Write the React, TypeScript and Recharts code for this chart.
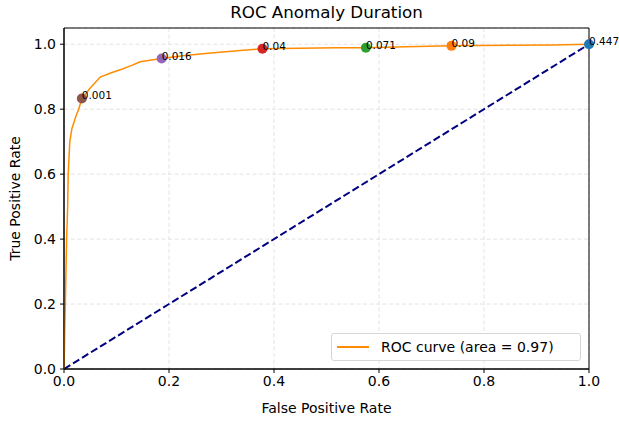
import { ComposedChart, Line, Scatter, XAxis, YAxis, CartesianGrid, ReferenceArea } from "recharts"

const FONT = "DejaVu Sans"

// ROC curve
const fprValues = [0, 0.001, 0.002, 0.003, 0.004, 0.005, 0.007, 0.008, 0.011, 0.015, 0.019, 0.023, 0.028, 0.034, 0.04, 0.05, 0.069, 0.09, 0.11, 0.129, 0.145, 0.186, 0.23, 0.28, 0.33, 0.378, 0.45, 0.52, 0.575, 0.65, 0.738, 0.85, 0.93, 1.0]
const tprValues = [0, 0.08, 0.16, 0.24, 0.32, 0.4, 0.5, 0.6, 0.7, 0.74, 0.76, 0.78, 0.8, 0.833, 0.845, 0.865, 0.899, 0.912, 0.923, 0.935, 0.946, 0.956, 0.965, 0.973, 0.98, 0.986, 0.988, 0.989, 0.989, 0.992, 0.995, 0.997, 0.998, 1.0]

// threshold markers
const thresholdLabels = ["0.001", "0.016", "0.04", "0.071", "0.09", "0.447"]
const thresholdFpr = [0.034, 0.186, 0.378, 0.575, 0.738, 1.0]
const thresholdTpr = [0.833, 0.956, 0.986, 0.989, 0.995, 1.0]
const thresholdColors = ["#8c564b", "#9467bd", "#d62728", "#2ca02c", "#ff7f0e", "#1f77b4"]

const ticks = [0, 0.2, 0.4, 0.6, 0.8, 1.0]

const rocData = fprValues.map((fpr, i) => ({ fpr, tpr: tprValues[i] }))
const diagData = [{ fpr: 0, tpr: 0 }, { fpr: 1, tpr: 1 }]
const markerData = thresholdLabels.map((label, i) => ({
    fpr: thresholdFpr[i],
    tpr: thresholdTpr[i],
    label,
    color: thresholdColors[i],
}))

const RocLegend = () => (
    <div
        style={{
            position: "absolute",
            left: 331,
            top: 333,
            width: 250,
            height: 28,
            border: "1px solid #d6d6d6",
            borderRadius: 3,
            background: "#fff",
            display: "flex",
            alignItems: "center",
            fontFamily: FONT,
            fontSize: 14,
            color: "#000",
            boxSizing: "border-box",
        }}
    >
        <div style={{ width: 32, height: 1.5, background: "#ff8c00", marginLeft: 5, marginRight: 12 }} />
        <span>ROC curve (area = 0.97)</span>
    </div>
)

export default function App() {
    return (
        <div style={{ position: "absolute", left: 0, top: 0, width: 619, height: 421, background: "#fff" }}>
            <div
                style={{
                    position: "absolute",
                    left: 64,
                    width: 525,
                    top: 2,
                    textAlign: "center",
                    fontFamily: FONT,
                    fontSize: 16.7,
                    color: "#000",
                    lineHeight: "20px",
                }}
            >
                ROC Anomaly Duration
            </div>
            <ComposedChart width={619} height={421} margin={{ top: 28, right: 30, left: 0, bottom: 0 }} style={{ overflow: "visible" }}>
                <CartesianGrid stroke="#e3e3e3" strokeDasharray="4 2.5" strokeWidth={1} />
                <XAxis
                    type="number"
                    dataKey="fpr"
                    domain={[0, 1]}
                    ticks={ticks}
                    tickFormatter={(v: number) => v.toFixed(1)}
                    height={52}
                    tickSize={4}
                    tickMargin={3}
                    axisLine={{ stroke: "#000" }}
                    tickLine={{ stroke: "#000" }}
                    tick={{ fill: "#000", fontSize: 14, fontFamily: FONT }}
                    label={(props: any) => {
                        const vb = props.viewBox
                        return (
                            <text x={326.5} y={vb.y + 44} textAnchor="middle" fontFamily={FONT} fontSize={14} fill="#000">
                                False Positive Rate
                            </text>
                        )
                    }}
                />
                <YAxis
                    type="number"
                    dataKey="tpr"
                    domain={[0, 1.05]}
                    ticks={ticks}
                    tickFormatter={(v: number) => v.toFixed(1)}
                    width={64}
                    tickSize={4}
                    tickMargin={4}
                    axisLine={{ stroke: "#000" }}
                    tickLine={{ stroke: "#000" }}
                    tick={{ fill: "#000", fontSize: 14, fontFamily: FONT }}
                    label={(props: any) => {
                        const vb = props.viewBox
                        const cy = vb.y + vb.height / 2
                        return (
                            <text
                                x={20}
                                y={cy}
                                transform={`rotate(-90, 20, ${cy})`}
                                textAnchor="middle"
                                fontFamily={FONT}
                                fontSize={14}
                                fill="#000"
                            >
                                True Positive Rate
                            </text>
                        )
                    }}
                />
                <ReferenceArea x1={0} x2={1} y1={0} y2={1.05} fill="none" stroke="#000" strokeWidth={1} ifOverflow="visible" />
                <Scatter
                    data={markerData}
                    isAnimationActive={false}
                    shape={(p: any) => <circle cx={p.cx} cy={p.cy} r={5} fill={p.payload.color} />}
                />
                <Line
                    data={diagData}
                    dataKey="tpr"
                    stroke="#000080"
                    strokeWidth={2}
                    strokeDasharray="7.4 3.2"
                    dot={false}
                    activeDot={false}
                    isAnimationActive={false}
                />
                <Line
                    data={rocData}
                    dataKey="tpr"
                    type="linear"
                    stroke="#ff8c00"
                    strokeWidth={1.5}
                    dot={false}
                    activeDot={false}
                    isAnimationActive={false}
                />
                <Scatter
                    data={markerData}
                    isAnimationActive={false}
                    shape={(p: any) => (
                        <text x={p.cx} y={p.cy + 1} fontFamily={FONT} fontSize={10.5} fill="#000">
                            {p.payload.label}
                        </text>
                    )}
                />
            </ComposedChart>
            <RocLegend />
        </div>
    )
}
